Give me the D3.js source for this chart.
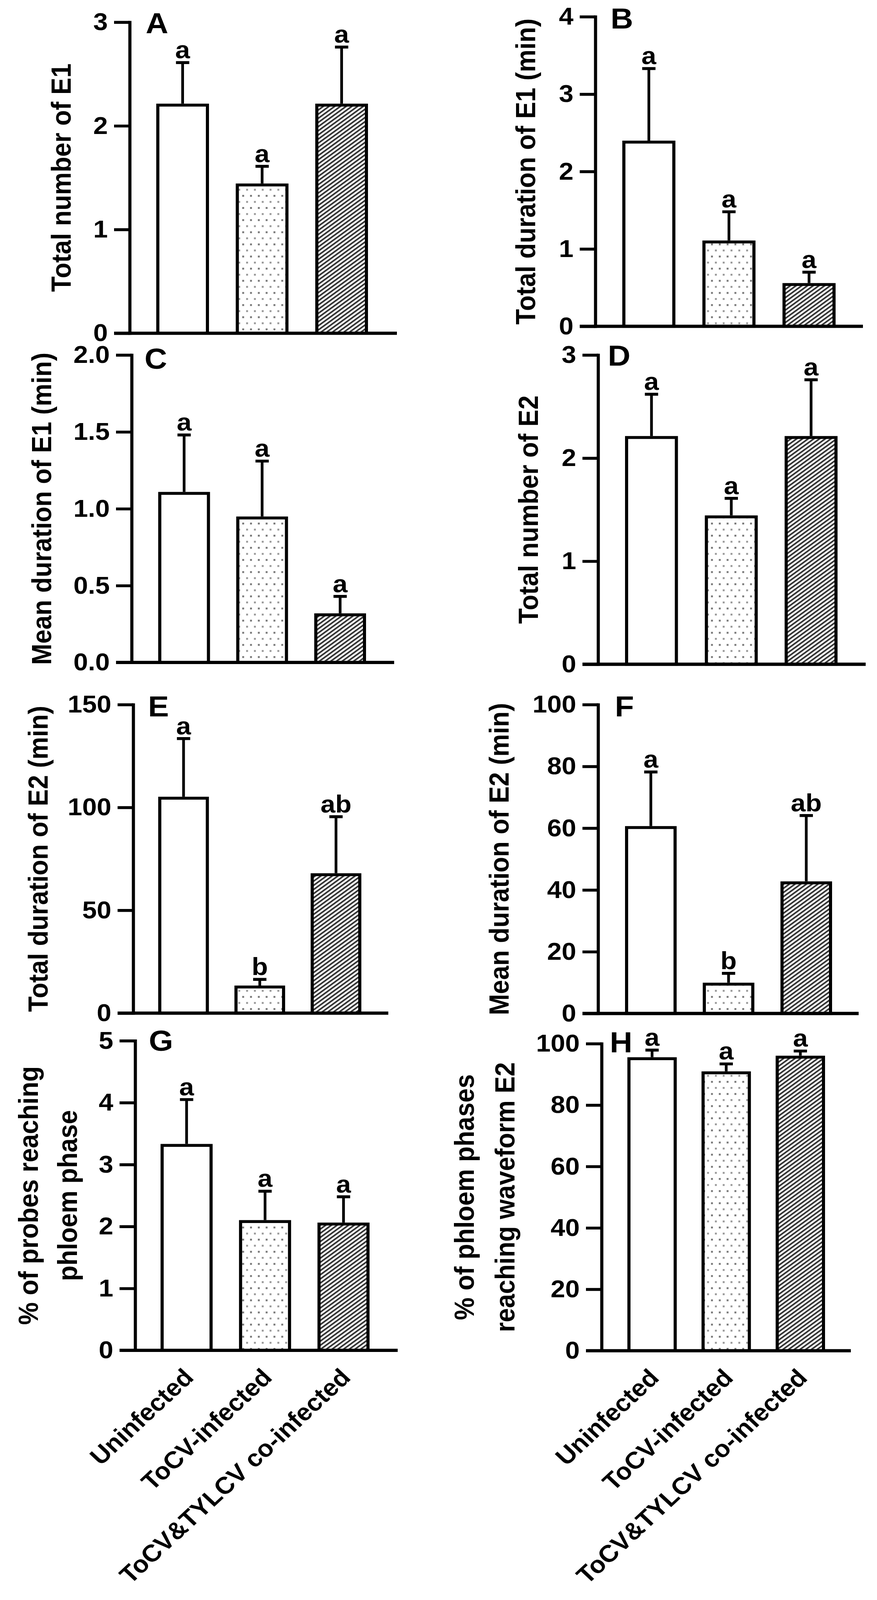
<!DOCTYPE html>
<html><head><meta charset="utf-8">
<script src="https://cdn.jsdelivr.net/npm/d3@7"></script>
<style>
html,body{margin:0;padding:0;background:#fff;overflow:hidden}
svg{display:block;width:100vw;height:100vh}
text{font-family:"Liberation Sans",Arial,Helvetica,sans-serif;font-weight:bold;fill:#000}
</style>
</head><body>
<svg id="chart" viewBox="0 0 2245 4403" preserveAspectRatio="none"></svg>
<script>
// ---------- DATA ----------
const categories = ["Uninfected", "ToCV-infected", "ToCV&TYLCV co-infected"];

const meanA = [2.20, 1.43, 2.20];   const semA = [0.41, 0.18, 0.56];  const sigA = ["a","a","a"];
const meanB = [2.38, 1.09, 0.54];   const semB = [0.95, 0.39, 0.16];  const sigB = ["a","a","a"];
const meanC = [1.10, 0.94, 0.31];   const semC = [0.38, 0.37, 0.12];  const sigC = ["a","a","a"];
const meanD = [2.20, 1.43, 2.20];   const semD = [0.42, 0.18, 0.56];  const sigD = ["a","a","a"];
const meanE = [104.5, 12.7, 67.3];  const semE = [29.0, 3.7, 28.2];   const sigE = ["a","b","ab"];
const meanF = [60.2, 9.5, 42.3];    const semF = [18.0, 3.5, 21.8];   const sigF = ["a","b","ab"];
const meanG = [3.31, 2.08, 2.04];   const semG = [0.74, 0.49, 0.44];  const sigG = ["a","a","a"];
const meanH = [95.1, 90.5, 95.6];   const semH = [2.8, 2.9, 2.0];     const sigH = ["a","a","a"];

const ticksA = [0,1,2,3];
const ticksB = [0,1,2,3,4];
const ticksC = [0,0.5,1.0,1.5,2.0];
const ticksD = [0,1,2,3];
const ticksE = [0,50,100,150];
const ticksF = [0,20,40,60,80,100];
const ticksG = [0,1,2,3,4,5];
const ticksH = [0,20,40,60,80,100];

const yTitleA = ["Total number of E1"];
const yTitleB = ["Total duration of E1 (min)"];
const yTitleC = ["Mean duration of E1 (min)"];
const yTitleD = ["Total number of E2"];
const yTitleE = ["Total duration of E2 (min)"];
const yTitleF = ["Mean duration of E2 (min)"];
const yTitleG = ["% of probes reaching", "phloem phase"];
const yTitleH = ["% of phloem phases", "reaching waveform E2"];

// ---------- LAYOUT ----------
const panels = [
  {id:"A", mean:meanA, sem:semA, sig:sigA, ticks:ticksA, fmt:"d",   title:yTitleA, axisX:332,  yTop:61,   y0:917,  bars:[404,938],   xEnd:1016, titleX:[156],       letter:[373,91],   xlab:false},
  {id:"B", mean:meanB, sem:semB, sig:sigB, ticks:ticksB, fmt:"d",   title:yTitleB, axisX:1524, yTop:46,   y0:898,  bars:[1597,2135], xEnd:2209, titleX:[1345],      letter:[1563,79],  xlab:false},
  {id:"C", mean:meanC, sem:semC, sig:sigC, ticks:ticksC, fmt:".1f", title:yTitleC, axisX:337,  yTop:977,  y0:1823, bars:[409,933],   xEnd:1009, titleX:[106],       letter:[370,1015], xlab:false},
  {id:"D", mean:meanD, sem:semD, sig:sigD, ticks:ticksD, fmt:"d",   title:yTitleD, axisX:1531, yTop:977,  y0:1828, bars:[1604,2140], xEnd:2216, titleX:[1352],      letter:[1556,1006],xlab:false},
  {id:"E", mean:meanE, sem:semE, sig:sigE, ticks:ticksE, fmt:"d",   title:yTitleE, axisX:341,  yTop:1939, y0:2788, bars:[409,921],   xEnd:994,  titleX:[97],        letter:[379,1971], xlab:false},
  {id:"F", mean:meanF, sem:semF, sig:sigF, ticks:ticksF, fmt:"d",   title:yTitleF, axisX:1531, yTop:1939, y0:2789, bars:[1604,2126], xEnd:2198, titleX:[1277],      letter:[1574,1971],xlab:false},
  {id:"G", mean:meanG, sem:semG, sig:sigG, ticks:ticksG, fmt:"d",   title:yTitleG, axisX:346,  yTop:2864, y0:3716, bars:[415,942],   xEnd:1018, titleX:[72,172],    letter:[381,2892], xlab:true},
  {id:"H", mean:meanH, sem:semH, sig:sigH, ticks:ticksH, fmt:"d",   title:yTitleH, axisX:1540, yTop:2872, y0:3717, bars:[1610,2108], xEnd:2178, titleX:[1188,1292], letter:[1561,2896],xlab:true}
];

const svg = d3.select("#chart");
svg.append("rect").attr("width",2245).attr("height",4403).attr("fill","#fff");

// patterns
const defs = svg.append("defs");
const dots = defs.append("pattern").attr("id","dots").attr("patternUnits","userSpaceOnUse")
  .attr("width",20).attr("height",33.4);
dots.append("rect").attr("width",20).attr("height",33.4).attr("fill","#fff");
dots.append("rect").attr("x",0).attr("y",2).attr("width",5).attr("height",5).attr("fill","#7a7a7a");
dots.append("rect").attr("x",10).attr("y",18.7).attr("width",5).attr("height",5).attr("fill","#9a9a9a");

const hatch = defs.append("pattern").attr("id","hatch").attr("patternUnits","userSpaceOnUse")
  .attr("width",9).attr("height",10).attr("patternTransform","rotate(52)");
hatch.append("rect").attr("width",9).attr("height",10).attr("fill","#fff");
hatch.append("rect").attr("x",0).attr("width",4.3).attr("height",10).attr("fill","#333");

const fills = ["#fff","url(#dots)","url(#hatch)"];

panels.forEach(p => {
  const g = svg.append("g");
  const maxV = p.ticks[p.ticks.length-1];
  const y = d3.scaleLinear().domain([0, maxV]).range([p.y0, p.yTop]);
  const x = d3.scaleBand().domain(categories).range(p.bars).paddingInner(0.376).paddingOuter(0);
  const bw = x.bandwidth();

  const ax = g.append("g").attr("transform",`translate(${p.axisX},0)`)
    .call(d3.axisLeft(y).tickValues(p.ticks).tickFormat(d3.format(p.fmt)).tickSize(40).tickSizeOuter(0).tickPadding(16));
  ax.select(".domain").attr("stroke","#000").attr("stroke-width",8).attr("stroke-linecap","square");
  ax.selectAll(".tick line").attr("stroke","#000").attr("stroke-width",8);
  ax.selectAll(".tick text").attr("font-size",67).attr("fill","#000")
    .style("font-family","'Liberation Sans',Arial,sans-serif").style("font-weight","bold");

  g.selectAll("rect.bar").data(p.mean).join("rect").attr("class","bar")
    .attr("x",(d,i)=>x(categories[i]))
    .attr("y",d=>y(d))
    .attr("width",bw)
    .attr("height",d=>p.y0 - y(d))
    .attr("fill",(d,i)=>fills[i])
    .attr("stroke","#000").attr("stroke-width",8);

  g.append("line").attr("x1",p.axisX-40).attr("x2",p.xEnd)
    .attr("y1",y(0)).attr("y2",y(0)).attr("stroke","#000").attr("stroke-width",9);

  p.mean.forEach((m,i)=>{
    const cx = x(categories[i]) + bw/2;
    const top = y(m + p.sem[i]);
    g.append("line").attr("x1",cx).attr("x2",cx).attr("y1",y(m)-4).attr("y2",top)
      .attr("stroke","#000").attr("stroke-width",7);
    g.append("line").attr("x1",cx-17).attr("x2",cx+17).attr("y1",top).attr("y2",top)
      .attr("stroke","#000").attr("stroke-width",8);
    g.append("text").attr("x",cx).attr("y",top-12).attr("text-anchor","middle")
      .attr("font-size",68).text(p.sig[i]);
  });

  p.title.forEach((t,k)=>{
    const cy = (p.yTop + p.y0)/2;
    g.append("text").attr("transform",`translate(${p.titleX[k]},${cy}) rotate(-90)`)
      .attr("text-anchor","middle").attr("dy","0.35em").attr("font-size",70).text(t);
  });

  g.append("text").attr("x",p.letter[0]).attr("y",p.letter[1]).attr("font-size",80).text(p.id);

  if (p.xlab) {
    categories.forEach(c=>{
      const cx = x(c) + bw/2;
      g.append("text").attr("transform",`translate(${cx+5},${p.y0+62}) rotate(-45)`)
        .attr("text-anchor","end").attr("dy","0.35em").attr("font-size",66).text(c);
    });
  }
});
</script>
</body></html>
